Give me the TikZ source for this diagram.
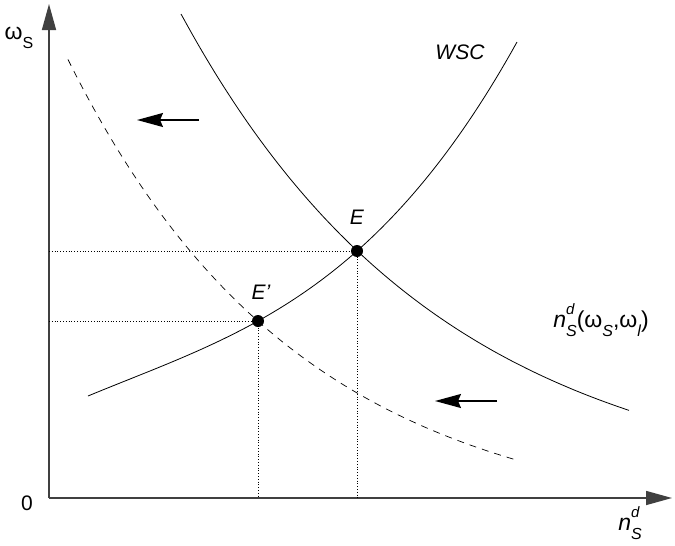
\documentclass[tikz,border=0pt]{standalone}
\usepackage{fontspec}
\setmainfont{Liberation Sans}
\usetikzlibrary{arrows.meta}
% small stacked / lowered indices in text
\newcommand{\stackidx}[2]{\makebox[0pt][l]{\raisebox{0.6em}{\fontsize{15}{15}\selectfont\itshape #1}}\raisebox{-0.38em}{\fontsize{16}{16}\selectfont\itshape #2}}
\newcommand{\lowidx}[1]{\raisebox{-0.38em}{\fontsize{16}{16}\selectfont #1}}

\begin{document}
\begin{tikzpicture}[x=1pt, y=-1pt,
  axis/.style={draw=black!75, line width=1.5pt, -{Triangle[length=26pt,width=14pt]}},
  curve/.style={line width=0.8pt},
  shifted/.style={line width=0.7pt, dash pattern=on 7pt off 6pt},
  guide/.style={line width=0.8pt, dotted},
  eqpt/.style={circle, fill=black, inner sep=0pt, minimum size=12pt},
  shiftarrow/.style={line width=1.5pt, -{Stealth[length=26pt,width=14pt,inset=3pt]}},
  lbl/.style={font=\fontsize{23}{27}\selectfont, inner sep=0pt}]
\useasboundingbox (0,0) rectangle (675,546);
\coordinate (O)    at (49,498);
\coordinate (ytop) at (49,4);
\coordinate (xend) at (672,498);
\coordinate (E)    at (357,251);
\coordinate (Ep)   at (258,321);
% axes
\draw[axis] (O) -- (ytop);
\draw[axis] (O) -- (xend);
% guide lines to the axes
\draw[guide] (E -| O) -- (E) -- (E |- O);
\draw[guide] (Ep -| O) -- (Ep) -- (Ep |- O);
% labour demand, shifted demand, wage setting curve
\draw[curve] plot[domain=181:629, samples=80] (\x, {498-484*exp(-0.003821*(\x-181))});
\draw[shifted] plot[domain=68:516, samples=80] (\x, {528-508.3*exp(-0.0043*(\x-49))});
\draw[curve] plot[domain=88:517, samples=80]
  (\x, {396-41.44*((\x-88)/100)+3.677*((\x-88)/100)^2-3.089*((\x-88)/100)^3});
% equilibria
\node[eqpt] (Edot)  at (E)  {};
\node[eqpt] (Epdot) at (Ep) {};
% shift arrows
\coordinate (a1s) at (199,120);
\coordinate (a1e) at (137,120);
\coordinate (a2s) at (497,401);
\coordinate (a2e) at (435,401);
\draw[shiftarrow] (a1s) -- (a1e);
\draw[shiftarrow] (a2s) -- (a2e);
% labels
\node[lbl] (ylab)  at (19,38)   {ω\lowidx{S}};
\node[lbl, font=\fontsize{21}{25}\selectfont] (zero) at (27,503) {0};
\node[lbl] (xlab)  at (630,523) {\textit{n}\stackidx{d}{S}};
\node[lbl, font=\fontsize{21}{25}\selectfont] (wsc) at (460,52) {\textit{WSC}};
\node[lbl, font=\fontsize{21}{25}\selectfont] (Elab)  at (357,217) {\textit{E}};
\node[lbl, font=\fontsize{21}{25}\selectfont] (Eplab) at (261,292) {\textit{E'}};
\node[lbl] (dlab)  at (601,320) {\textit{n}\stackidx{d}{S}(ω\lowidx{\itshape S},ω\lowidx{\itshape l})};
\end{tikzpicture}
\end{document}
